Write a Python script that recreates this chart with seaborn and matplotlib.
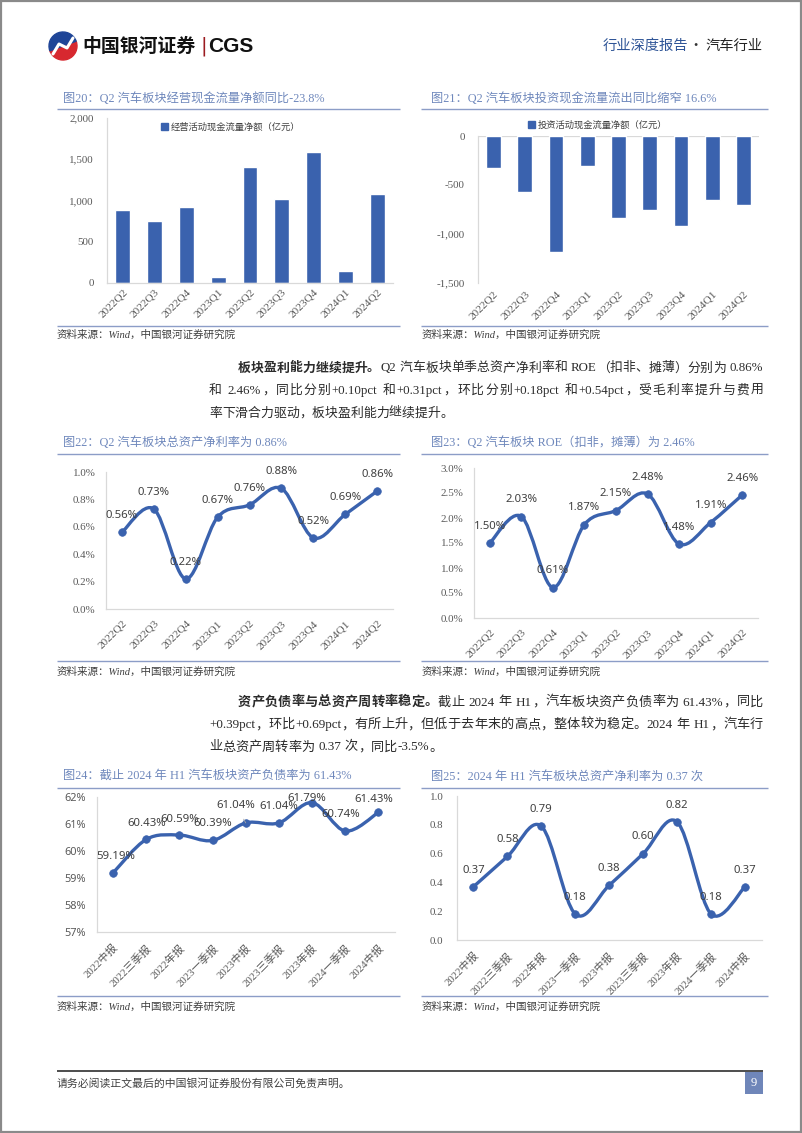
import numpy as np
import pandas as pd
import matplotlib
matplotlib.use("Agg")
import matplotlib.pyplot as plt
import seaborn as sns
from matplotlib.patches import Patch, Rectangle, Wedge, PathPatch
from matplotlib.lines import Line2D
from matplotlib.path import Path
from matplotlib.ticker import FuncFormatter, FixedLocator

# ---------------- data ----------------
quarters = ["2022Q2", "2022Q3", "2022Q4", "2023Q1", "2023Q2", "2023Q3", "2023Q4", "2024Q1", "2024Q2"]
op_cash = [880, 755, 925, 73, 1408, 1022, 1582, 142, 1079]          # 经营活动现金流量净额（亿元）
inv_cash = [-324, -569, -1180, -307, -839, -753, -914, -658, -699]  # 投资活动现金流量净额（亿元）
roa_q = [0.56, 0.73, 0.22, 0.67, 0.76, 0.88, 0.52, 0.69, 0.86]      # 总资产净利率 %
roe_q = [1.50, 2.03, 0.61, 1.87, 2.15, 2.48, 1.48, 1.91, 2.46]      # ROE %
periods = ["2022中报", "2022三季报", "2022年报", "2023一季报", "2023中报",
           "2023三季报", "2023年报", "2024一季报", "2024中报"]
debt_ratio = [59.19, 60.43, 60.59, 60.39, 61.04, 61.04, 61.79, 60.74, 61.43]
turnover = [0.37, 0.58, 0.79, 0.18, 0.38, 0.60, 0.82, 0.18, 0.37]

# ---------------- style ----------------
sns.set_theme(style="white")
SERIF = ["Liberation Serif", "Noto Sans CJK SC"]
SANS = ["Noto Sans", "Noto Sans CJK SC"]
CJK = ["Noto Sans CJK SC", "DejaVu Sans"]
plt.rcParams["font.family"] = SERIF
plt.rcParams["axes.unicode_minus"] = False

BLUE = "#3A62AE"
TITLE_C = "#6F88BC"
RULE_C = "#8C9DC7"
TICK_C = "#595959"
LABEL_C = "#404040"
TEXT_C = "#2B2B2B"
SPINE_C = "#D9D9D9"

W, H = 802, 1133
fig = plt.figure(figsize=(W / 100, H / 100), dpi=100)
fig.patch.set_facecolor("white")
renderer = fig.canvas.get_renderer()


def add_ax(x0, y0, x1, y1):
    return fig.add_axes([x0 / W, 1 - y1 / H, (x1 - x0) / W, (y1 - y0) / H])


def ftext(x, y, s, **kw):
    return fig.text(x / W, 1 - y / H, s, **kw)


def hline(x0, x1, y, color, lw):
    fig.add_artist(Line2D([x0 / W, x1 / W], [1 - y / H, 1 - y / H], color=color, lw=lw,
                          solid_capstyle="butt"))


def chart_title(x, y, s, x0, x1, ly):
    ftext(x, y, s, fontsize=8.8, color=TITLE_C, family=SERIF, va="center", ha="left")
    hline(x0, x1, ly, RULE_C, 1.0)


def source(x, y, x0, x1, ly):
    hline(x0, x1, ly, RULE_C, 1.0)
    ftext(x, y, "资料来源：Wind，中国银河证券研究院", fontsize=7.6, style="italic",
          family=SERIF, color="#404040", va="center", ha="left")


def style_axes(ax, ypad, xpad, ytick_family=SERIF, xfs=8.2, yfs=7.9):
    sns.despine(ax=ax, top=True, right=True)
    for sp in ("left", "bottom"):
        ax.spines[sp].set_color(SPINE_C)
        ax.spines[sp].set_linewidth(0.9)
    ax.set_xlabel("")
    ax.set_ylabel("")
    ax.tick_params(axis="both", length=0)
    ax.tick_params(axis="y", pad=ypad, labelsize=yfs, labelcolor=TICK_C)
    ax.tick_params(axis="x", pad=xpad, labelsize=xfs, labelcolor=TICK_C)
    for t in ax.get_yticklabels():
        t.set_family(ytick_family)
    ax.set_facecolor("white")
    ax.grid(False)


def set_xcats(ax, cats):
    ax.xaxis.set_major_locator(FixedLocator(range(len(cats))))
    ax.set_xticklabels(cats, rotation=45, ha="right", va="top", rotation_mode="anchor",
                       family=SERIF)


def bar_chart(box, cats, vals, ylim, yticks, ypad, xpad, legend_label, legend_xy, zero_line=False):
    ax = add_ax(*box)
    df = pd.DataFrame({"cat": cats, "val": vals})
    sns.barplot(data=df, x="cat", y="val", color=BLUE, saturation=1, width=0.47, ax=ax, zorder=2)
    ax.set_xlim(-0.5, len(cats) - 0.5)
    ax.set_ylim(*ylim)
    ax.yaxis.set_major_locator(FixedLocator(yticks))
    ax.yaxis.set_major_formatter(FuncFormatter(lambda v, p: f"{v:,.0f}"))
    set_xcats(ax, cats)
    style_axes(ax, ypad, xpad)
    if zero_line:
        ax.spines["bottom"].set_visible(False)
        ax.axhline(0, color=SPINE_C, lw=0.9, zorder=1)
    ax.legend([Patch(facecolor=BLUE, edgecolor=BLUE)], [legend_label], loc="center",
              bbox_to_anchor=(legend_xy[0] / W, 1 - legend_xy[1] / H), bbox_transform=fig.transFigure,
              frameon=False, handlelength=0.75, handleheight=0.75, handletextpad=0.3,
              prop={"family": CJK, "size": 6.7}, labelcolor="#404040")
    return ax


def smooth_path(xv, yv):
    P = np.column_stack([xv, yv]).astype(float)
    m = len(P)
    verts = [P[0]]
    codes = [Path.MOVETO]
    for i in range(m - 1):
        p0 = P[max(i - 1, 0)]
        p1 = P[i]
        p2 = P[i + 1]
        p3 = P[min(i + 2, m - 1)]
        verts += [p1 + (p2 - p0) / 6.0, p2 - (p3 - p1) / 6.0, p2]
        codes += [Path.CURVE4] * 3
    return Path(verts, codes)


def line_chart(box, cats, vals, ylim, yticks, yfmt, lab_fmt, ypad, xpad,
               ytick_family=SERIF, offsets=None, leaders=(), xfs=8.2):
    ax = add_ax(*box)
    x = np.arange(len(vals))
    ax.add_patch(PathPatch(smooth_path(x, vals), fill=False, ec=BLUE, lw=2.4,
                           capstyle="round", joinstyle="round", zorder=2))
    sns.scatterplot(x=x, y=vals, ax=ax, color=BLUE, s=30, edgecolor=BLUE, linewidth=0.5,
                    zorder=3, legend=False)
    ax.set_xlim(-0.5, len(vals) - 0.5)
    ax.set_ylim(*ylim)
    ax.yaxis.set_major_locator(FixedLocator(yticks))
    ax.yaxis.set_major_formatter(FuncFormatter(yfmt))
    set_xcats(ax, cats)
    style_axes(ax, ypad, xpad, ytick_family=ytick_family, xfs=xfs)
    for i, v in enumerate(vals):
        off = offsets[i] if offsets is not None else (0, 12)
        kw = {}
        if i in leaders:
            kw["arrowprops"] = dict(arrowstyle="-", color="#A6A6A6", lw=0.6, shrinkA=4, shrinkB=4)
        ax.annotate(lab_fmt(v), (i, v), xytext=off, textcoords="offset points", ha="center",
                    va="center", fontsize=8.2, color=LABEL_C, family=SANS, zorder=4,
                    annotation_clip=False, **kw)
    return ax


# ---------------- page frame & header ----------------
fig.add_artist(Rectangle((0.0008, 0.0006), 0.9984, 0.9988, transform=fig.transFigure, fill=False,
                         ec="#8A8A8A", lw=1.6))

lax = add_ax(46, 31, 80, 61)
lax.set_xlim(0, 34)
lax.set_ylim(0, 30)
lax.set_aspect("equal")
lax.axis("off")
lax.add_patch(Wedge((17, 15), 14, 200, 380, color="#D7282F"))
lax.add_patch(Wedge((17, 15), 14, 20, 200, color="#1F4597"))
lax.plot([7, 13, 21, 27], [7, 17, 13, 23], color="white", lw=2.2, solid_capstyle="round")

ftext(82, 46, "中国银河证券", fontsize=13.6, weight="bold", family=CJK, color="#111111",
      va="center", ha="left")
ftext(204, 46, "|", fontsize=14, family=["DejaVu Sans"], color="#9B1B20", va="center", ha="center")
ftext(208, 46, "CGS", fontsize=15, weight="bold", family=["Liberation Sans"], color="#111111",
      va="center", ha="left")
ftext(603, 46, "行业深度报告", fontsize=10.3, family=CJK, color="#2F5597", va="center", ha="left")
ftext(696, 46, "·", fontsize=10.3, family=CJK, color="#333333", va="center", ha="center")
ftext(705, 46, "汽车行业", fontsize=10.3, family=CJK, color="#222222", va="center", ha="left")

# ---------------- chart 20 / 21 ----------------
chart_title(63, 99, "图20：Q2 汽车板块经营现金流量净额同比-23.8%", 57, 400, 109)
bar_chart((107, 118, 393, 283), quarters, op_cash, (0, 2000), [0, 500, 1000, 1500, 2000],
          ypad=9.5, xpad=3, legend_label="经营活动现金流量净额（亿元）", legend_xy=(231, 127))
source(57, 335, 57, 400, 326)

chart_title(431, 99, "图21：Q2 汽车板块投资现金流量流出同比缩窄 16.6%", 421, 768, 109)
bar_chart((478, 136, 759, 283), quarters, inv_cash, (-1500, 0), [-1500, -1000, -500, 0],
          ypad=9.5, xpad=4.5, legend_label="投资活动现金流量净额（亿元）", legend_xy=(598, 125),
          zero_line=True)
source(422, 335, 421, 768, 326)


# ---------------- paragraphs ----------------
def tokens_of(segments):
    toks = []
    for s, wt in segments:
        buf = ""
        for ch in s:
            if ch == " ":
                if buf:
                    toks.append((buf, wt, "lat"))
                    buf = ""
                toks.append((" ", wt, "sp"))
            elif ord(ch) >= 0x2E80:
                if buf:
                    toks.append((buf, wt, "lat"))
                    buf = ""
                toks.append((ch, wt, "cjk"))
            else:
                buf += ch
        if buf:
            toks.append((buf, wt, "lat"))
    return toks


def tok_width(tok, fs):
    s, wt, kind = tok
    em = fs * 100 / 72.0
    if kind == "cjk":
        return em
    if kind == "sp":
        return 0.28 * em
    t = fig.text(0, 0, s, fontsize=fs, family=SERIF, weight=wt)
    w = t.get_window_extent(renderer).width
    t.remove()
    return w


def draw_paragraph(lines, y0, dy, x_first, x_rest, x_end, fs_max=9.6):
    toks_lines = [tokens_of(l) for l in lines]
    fs = fs_max
    for k, toks in enumerate(toks_lines[:-1]):
        xs = x_first if k == 0 else x_rest
        nat = sum(tok_width(t, fs_max) for t in toks)
        fs = min(fs, fs_max * (x_end - xs) / nat * 0.995)
    for k, toks in enumerate(toks_lines):
        xs = x_first if k == 0 else x_rest
        ws = [tok_width(t, fs) for t in toks]
        justify = k < len(toks_lines) - 1
        extra = (x_end - xs - sum(ws)) / (len(toks) - 1) if justify else 0.0
        x = xs
        yb = y0 + k * dy + 4.5
        for t, w in zip(toks, ws):
            s, wt, kind = t
            if kind == "cjk":
                ftext(x + w / 2, yb, s, fontsize=fs, family=CJK, weight=wt, color=TEXT_C,
                      ha="center", va="baseline")
            elif kind == "lat":
                ftext(x, yb, s, fontsize=fs, family=SERIF, weight=wt, color=TEXT_C,
                      ha="left", va="baseline")
            x += w + extra


para1 = [
    [("板块盈利能力继续提升。", "bold"),
     ("Q2 汽车板块单季总资产净利率和 ROE（扣非、摊薄）分别为 0.86%", "normal")],
    [("和 2.46%，同比分别+0.10pct 和+0.31pct，环比分别+0.18pct 和+0.54pct，受毛利率提升与费用", "normal")],
    [("率下滑合力驱动，板块盈利能力继续提升。", "normal")],
]
draw_paragraph(para1, 367, 22.5, 238, 209, 763)

para2 = [
    [("资产负债率与总资产周转率稳定。", "bold"),
     ("截止 2024 年 H1，汽车板块资产负债率为 61.43%，同比", "normal")],
    [("+0.39pct，环比+0.69pct，有所上升，但低于去年末的高点，整体较为稳定。2024 年 H1，汽车行", "normal")],
    [("业总资产周转率为 0.37 次，同比-3.5%。", "normal")],
]
draw_paragraph(para2, 701, 22.5, 238, 209, 763)

# ---------------- chart 22 / 23 ----------------
chart_title(63, 443, "图22：Q2 汽车板块总资产净利率为 0.86%", 57, 400, 454)
line_chart((106, 472, 393, 609), quarters, roa_q, (0, 1.0), [0, 0.2, 0.4, 0.6, 0.8, 1.0],
           lambda v, p: f"{v:.1f}%", lambda v: f"{v:.2f}%", ypad=7.5, xpad=7)
source(57, 672, 57, 400, 661)

chart_title(431, 443, "图23：Q2 汽车板块 ROE（扣非，摊薄）为 2.46%", 421, 768, 454)
line_chart((474, 468, 758, 618), quarters, roe_q, (0, 3.0), [0, 0.5, 1.0, 1.5, 2.0, 2.5, 3.0],
           lambda v, p: f"{v:.1f}%", lambda v: f"{v:.2f}%", ypad=7.5, xpad=7)
source(422, 672, 421, 768, 661)

# ---------------- chart 24 / 25 ----------------
chart_title(63, 777, "图24：截止 2024 年 H1 汽车板块资产负债率为 61.43%", 57, 400, 788)
off24 = [(2, 11.5), (0, 11.5), (0, 11.5), (0, 12), (-7, 12.5), (0, 11.5), (-3.5, 3), (-3.5, 12), (-3, 9.5)]
line_chart((96.5, 797, 395, 932), periods, debt_ratio, (57, 62), [57, 58, 59, 60, 61, 62],
           lambda v, p: f"{v:.0f}%", lambda v: f"{v:.2f}%", ypad=7.5, xpad=7.5,
           ytick_family=SANS, offsets=off24, leaders=(4,), xfs=7.8)
source(57, 1007, 57, 400, 996)

chart_title(431, 777, "图25：2024 年 H1 汽车板块总资产净利率为 0.37 次", 421, 768, 788)
line_chart((456.5, 796, 762, 940), periods, turnover, (0, 1.0), [0, 0.2, 0.4, 0.6, 0.8, 1.0],
           lambda v, p: f"{v:.1f}", lambda v: f"{v:.2f}", ypad=9.5, xpad=7.5, xfs=7.8)
source(422, 1007, 421, 768, 996)

# ---------------- footer ----------------
hline(57, 763, 1071, "#3F3F3F", 1.3)
ftext(57, 1083, "请务必阅读正文最后的中国银河证券股份有限公司免责声明。", fontsize=7.8,
      family=CJK, color="#404040", va="center", ha="left")
fig.add_artist(Rectangle((745 / W, 1 - 1094 / H), 18 / W, 22 / H, transform=fig.transFigure,
                         color="#6F86B9", lw=0))
ftext(754, 1083, "9", fontsize=9, family=SERIF, color="white", va="center", ha="center")

fig.savefig("out.png", dpi=100, facecolor="white")
